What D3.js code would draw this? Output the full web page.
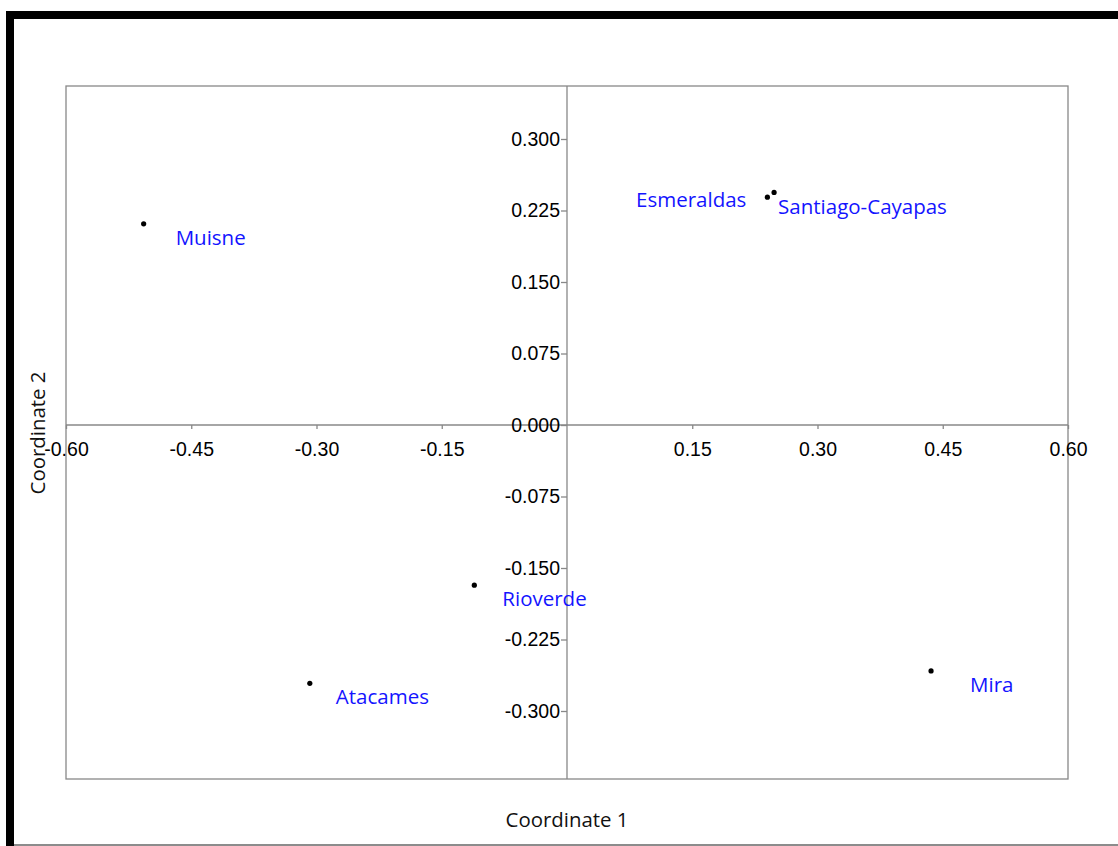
<!DOCTYPE html>
<html>
<head>
<meta charset="utf-8">
<script src="https://cdn.jsdelivr.net/npm/d3@7"></script>
<style>
  body { margin: 0; background: #fff; }
  svg { display: block; font-family: "Open Sans", "Noto Sans", sans-serif; }
</style>
</head>
<body>
<div id="container"></div>
<script>
// site names and their ordination coordinates
var sites = ["Muisne", "Esmeraldas", "Santiago-Cayapas", "Rioverde", "Atacames", "Mira"];
var coord1 = [-0.507, 0.240, 0.248, -0.111, -0.308, 0.436];
var coord2 = [0.211, 0.239, 0.244, -0.168, -0.271, -0.258];

var xTicks = [-0.60, -0.45, -0.30, -0.15, 0.15, 0.30, 0.45, 0.60];
var yTicks = [0.300, 0.225, 0.150, 0.075, 0.000, -0.075, -0.150, -0.225, -0.300];

// label placement relative to each dot (dx, dy, anchor)
var labelPos = [
  [32, 14, "start"], [-21, 3, "end"], [4, 14, "start"],
  [28, 14, "start"], [26, 13, "start"], [39, 14, "start"]
];

var W = 1118, H = 846;
var box = { left: 66, right: 1068, top: 86, bottom: 779 };

var svg = d3.select("#container").append("svg")
  .attr("width", W)
  .attr("height", H);

// window frame
svg.append("rect").attr("x", 6).attr("y", 11).attr("width", W - 6).attr("height", 8).attr("fill", "#000");
svg.append("rect").attr("x", 6).attr("y", 11).attr("width", 8).attr("height", H - 11).attr("fill", "#000");
svg.append("line").attr("x1", 14).attr("x2", W).attr("y1", 845).attr("y2", 845)
  .attr("stroke", "#666").attr("stroke-width", 1.5);

var x = d3.scaleLinear().domain([-0.6, 0.6]).range([box.left, box.right]);
var y = d3.scaleLinear().domain([0, 0.3]).range([425, 139]);

// plain hyphen for negatives, like the original
function fmt(n) { return function(d) { return d.toFixed(n); }; }

// plot frame
svg.append("rect")
  .attr("x", box.left).attr("y", box.top)
  .attr("width", box.right - box.left).attr("height", box.bottom - box.top)
  .attr("fill", "none").attr("stroke", "#888").attr("stroke-width", 1.3);

// x axis through zero
var xAxis = d3.axisBottom(x).tickValues(xTicks).tickSize(4).tickSizeOuter(0).tickFormat(fmt(2));
var gx = svg.append("g").attr("transform", "translate(0," + y(0) + ")").call(xAxis);
gx.select(".domain").attr("d", "M" + box.left + ",0H" + box.right);

// y axis through zero
var yAxis = d3.axisLeft(y).tickValues(yTicks).tickSize(6).tickSizeOuter(0).tickFormat(fmt(3));
var gy = svg.append("g").attr("transform", "translate(" + x(0) + ",0)").call(yAxis);
gy.select(".domain").attr("d", "M0," + box.top + "V" + box.bottom);

svg.selectAll(".domain, .tick line").attr("stroke", "#888").attr("stroke-width", 1.3);
gx.selectAll(".tick text").attr("font-size", 19.5).attr("fill", "#000").attr("y", 24).attr("dy", "0.35em");
gy.selectAll(".tick text").attr("font-size", 19.5).attr("fill", "#000").attr("x", -7).attr("dy", "0.32em");

// points
svg.selectAll(".dot")
    .data(sites)
  .enter().append("circle")
    .attr("class", "dot")
    .attr("r", 2.6)
    .attr("cx", function(d, i) { return x(coord1[i]); })
    .attr("cy", function(d, i) { return y(coord2[i]); })
    .attr("fill", "#000");

// point labels
svg.selectAll(".lab")
    .data(sites)
  .enter().append("text")
    .attr("class", "lab")
    .attr("x", function(d, i) { return x(coord1[i]) + labelPos[i][0]; })
    .attr("y", function(d, i) { return y(coord2[i]) + labelPos[i][1]; })
    .attr("dy", "0.35em")
    .attr("text-anchor", function(d, i) { return labelPos[i][2]; })
    .attr("font-size", 20.5)
    .attr("fill", "#1414ff")
    .text(function(d) { return d; });

// axis titles
svg.append("text")
  .attr("x", x(0)).attr("y", 820).attr("dy", "0.35em")
  .attr("text-anchor", "middle").attr("font-size", 20.4).attr("fill", "#111")
  .text("Coordinate 1");

svg.append("text")
  .attr("transform", "translate(38,433) rotate(-90)")
  .attr("dy", "0.35em")
  .attr("text-anchor", "middle").attr("font-size", 20.4).attr("fill", "#111")
  .text("Coordinate 2");
</script>
</body>
</html>
